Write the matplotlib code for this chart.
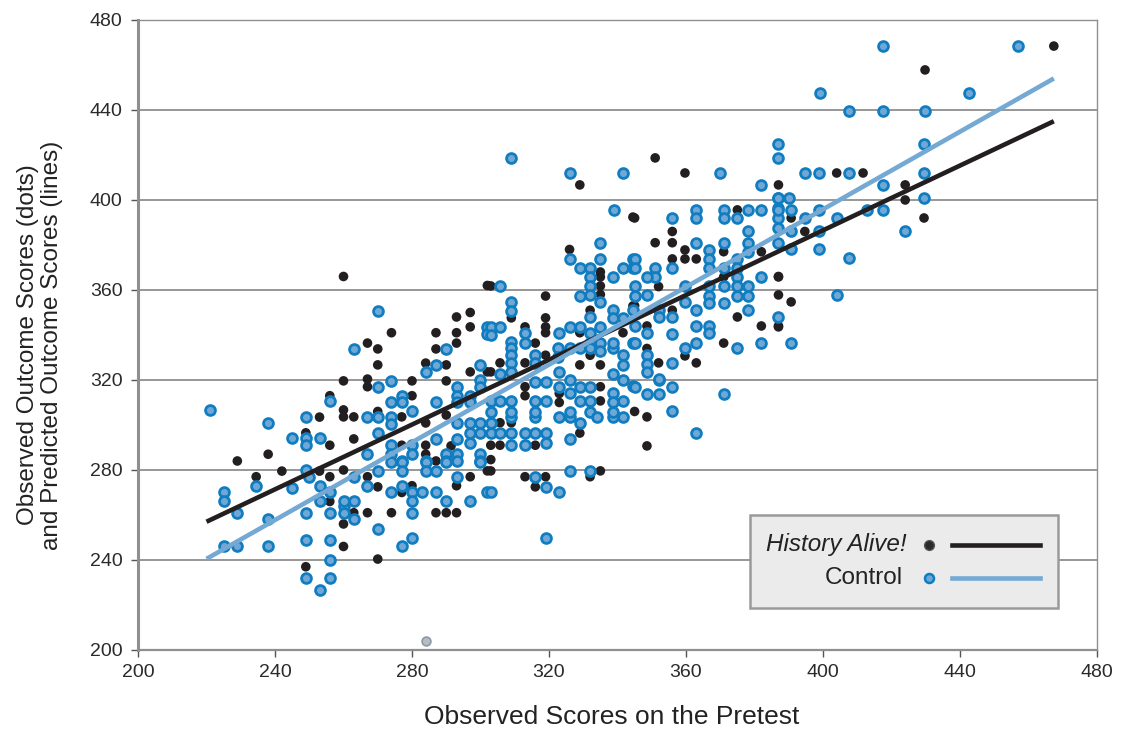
import matplotlib
matplotlib.use('Agg')
import matplotlib.pyplot as plt
from matplotlib.patches import Rectangle
import numpy as np

plt.rcParams['font.family'] = ['Liberation Sans', 'DejaVu Sans']

# History Alive! students: (pretest, outcome)
ha_points = [
    (229, 284), (238, 287), (234.5, 277), (242, 279.5), (249, 296.5), (253, 303.5), (256, 313),
    (256, 291), (253, 279.5), (256, 277), (256, 266), (249, 237), (260, 319.6), (260, 306.7),
    (260, 303.6), (260, 280), (260, 256), (260, 246),
    (260, 366), (302, 362), (293, 348), (297, 350), (297, 343.6), (274, 341), (267, 336.4),
    (270, 333.8), (270, 326.7), (287, 341), (287, 333.8), (293, 341), (293, 336.4), (284, 327.5),
    (290, 326.7), (297, 323.6), (302, 323.6), (267, 320.4), (267, 317), (280, 319.6), (290, 319.6),
    (280, 313), (263, 303.6), (270, 306), (277, 303.6), (263, 293.8), (284, 300.9), (290, 304.4),
    (277, 291), (284, 291), (284, 287), (287, 284),
    (267, 277), (270, 272.5), (277, 270), (280, 273), (297, 277), (293, 273), (263, 261),
    (267, 261), (274, 261), (287, 261), (290, 261), (293, 261), (270, 240.4), (302, 279.6),
    (326, 378), (335, 368), (335, 365.8), (335, 361.8), (335, 358), (303, 361.8), (319, 357.3),
    (309, 347.6), (313, 343.6), (319, 347.6), (319, 343.6), (319, 341), (316, 336.4), (329, 341),
    (332, 351), (341.6, 341), (344.5, 352.9), (319, 331), (332, 331), (329, 326.7), (335, 326.7),
    (303, 323.6), (305.7, 327.6), (313, 327.6), (313, 317), (313, 313), (335, 317), (335, 310.7),
    (323, 314), (323, 310),
    (316, 303.6), (305.7, 301), (309, 301), (305.7, 291), (303, 291), (303, 284.6), (329, 296.4),
    (316, 291), (303, 279.6), (313, 277), (319, 277), (316, 272.5), (335, 279.6), (332, 277),
    (387, 406.7), (375, 395.6), (345, 392), (356, 386), (356, 381), (351, 381), (371, 377),
    (382, 377), (359.7, 377.8), (359.7, 373.8), (363, 373.8), (356, 373.8), (371, 365.8),
    (387, 365.8), (352, 361.5), (345, 353), (356, 351), (348.6, 344), (375, 348), (382, 344),
    (387, 344), (359.7, 330.7), (371, 336.4), (348.6, 334), (352, 327.6), (363, 327.6),
    (345, 306), (348.6, 303.6), (348.6, 290.7),
    (404, 412), (390.7, 392), (424, 406.7), (424, 400), (429.5, 392), (394.7, 386), (387, 366),
    (387, 357.8), (390.7, 354.7), (387, 343.6),
    (467.4, 468.4), (429.8, 457.8),
    (329, 406.7), (351, 418.7), (411.7, 412), (359.7, 412), (344.5, 392.4), (291.4, 290.7),
]

# Control students: (pretest, outcome)
ctrl_points = [
    (221, 306.7), (238, 301), (234.5, 273), (225, 270), (225, 266), (229, 261), (225, 246),
    (229, 246), (238, 246), (238, 258), (245, 294), (245, 272), (249, 303.5), (249, 294),
    (249, 291), (253, 294), (256, 310.6), (249, 280), (250, 277), (253, 273), (256, 270),
    (253, 266), (249, 261), (256, 261), (249, 249), (256, 249), (256, 240), (249, 232),
    (256, 232), (253, 226.7), (260, 264), (260, 261),
    (270, 350.7), (302, 343.6), (302, 340.4), (263, 333.8), (290, 333.8), (284, 323.6),
    (287, 326.7), (300, 326.7), (270, 317), (274, 319.6), (293, 317), (293, 313), (293, 310),
    (300, 320), (300, 317), (274, 310), (277, 313), (277, 310), (280, 306), (287, 310),
    (297, 313), (297, 310), (267, 303.6), (270, 303.6), (274, 303.6), (274, 300.4), (270, 296.4),
    (287, 293.8), (293, 300.9), (293, 293.8), (297, 301), (297, 296.4), (297, 292), (300, 301),
    (300, 296.4), (267, 287), (274, 291), (274, 287), (277, 284), (280, 291), (280, 287),
    (284, 284), (290, 287), (290, 284), (293, 287), (293, 284), (300, 287), (300, 284),
    (263, 277), (270, 279.6), (267, 273), (274, 270), (277, 273), (280, 270), (280, 266),
    (280, 261), (283, 270), (287, 270), (290, 266), (297, 266), (293, 277), (302, 270),
    (260, 266), (263, 266), (263, 258), (270, 253.8), (277, 246), (280, 249.6), (274, 283.6),
    (277, 283.6), (277, 279.6), (284, 283.6), (284, 279.6), (287, 279.6), (290, 283.6),
    (300, 283.6),
    (335, 381), (326, 373.8), (335, 373.8), (329, 369.8), (332, 369.8), (332, 365.8),
    (332, 361.8), (332, 357.8), (335, 354.6), (338.7, 365.8), (341.6, 369.8), (344.5, 373.8),
    (344.5, 369.8), (305.7, 361.8), (329, 357.3), (309, 354.7), (309, 350.7), (303, 343.6),
    (305.7, 343.6), (303, 340), (313, 341), (313, 336.4), (323, 341), (309, 337), (309, 334),
    (309, 331), (309, 327.6), (309, 323.6), (326, 343.6), (329, 343.6), (332, 348), (335, 343.6),
    (332, 341), (332, 336.4), (338.7, 351), (338.7, 347.6), (341.6, 347.6), (344.5, 351),
    (344.5, 336.4), (322.6, 334), (322.6, 330), (316, 331), (316, 327.6), (326, 334), (329, 334),
    (332, 334), (335, 336.4), (335, 333), (338.7, 334), (341.6, 331), (341.6, 326.7),
    (338.7, 322.7), (338.7, 336.4), (305.7, 322.7), (316, 319), (319, 319), (323, 323.6),
    (323, 317), (326, 320), (326, 314), (329, 317), (329, 310.7), (332, 317), (332, 310.7),
    (338.7, 314), (338.7, 310), (341.6, 320), (341.6, 310.7), (344.5, 317.5), (303, 310.7),
    (305.7, 310.7), (309, 310.7), (309, 303.6), (316, 310.7), (316, 303.6), (319, 310.7),
    (323, 303.6), (326, 303.6), (338.7, 303.6), (341.6, 303.6),
    (303, 305.8), (309, 305.8), (316, 305.8), (326, 305.8), (332, 305.8), (338.7, 305.8),
    (334, 303.6), (303, 301), (303, 296.4), (305.7, 296.4), (309, 296.4), (313, 296.4),
    (316, 296.4), (319, 296.4), (319, 291.9), (309, 291), (313, 291), (329, 301), (326, 293.8),
    (316, 277), (319, 272.5), (323, 270), (326, 279.6), (332, 279.6), (303, 270), (319, 249.8),
    (382, 406.7), (387, 400.9), (387, 396.4), (387, 392), (387, 387.6), (363, 395.6), (363, 392),
    (371, 395.6), (371, 392), (375, 392), (378, 395.6), (382, 395.6), (356, 392), (363, 381),
    (371, 381), (378, 386), (378, 381), (378, 377), (387, 381), (366.7, 377.8), (366.7, 373.8),
    (366.7, 369.8), (356, 369.8), (345, 373.8), (345, 369.8), (351, 369.8), (351, 365.8),
    (348.6, 365.8), (371, 369.8), (375, 373.8), (375, 369.8), (375, 365.8), (382, 365.8),
    (345, 361.8), (345, 357.3), (359.7, 361.8), (366.7, 361.8), (366.7, 357.3), (366.7, 354),
    (371, 361.8), (371, 354), (375, 361.8), (375, 357.3), (378, 361.8), (378, 357.3),
    (348.6, 357.8), (359.7, 354.7), (363, 351), (352, 351), (352, 348), (356, 348), (356, 340.6),
    (345, 344), (348.6, 341), (345, 336.4), (363, 344), (366.7, 344), (366.7, 341), (378, 351),
    (387, 348), (363, 336.4), (359.7, 334), (375, 334), (382, 336.4), (348.6, 331), (348.6, 327),
    (348.6, 323.6), (356, 327.6), (352, 320),
    (345, 317), (348.6, 313.8), (352, 313.8), (352, 320.5), (356, 317), (371, 313.8), (356, 306),
    (363, 296.4),
    (387, 424.9), (387, 418.7), (394.7, 412), (398.8, 412), (407.6, 412), (387, 401), (390, 401),
    (387, 395.6), (390.7, 395.6), (394.7, 392), (398.8, 395.6), (404, 392), (412.8, 395.6),
    (417.5, 406.7), (417.5, 395.6), (429.5, 425), (429.5, 412), (429.5, 401), (424, 386),
    (390.7, 386), (390.7, 378), (398.8, 386), (398.8, 378), (407.6, 374), (404, 357.8),
    (390.7, 336.4),
    (457, 468.4), (442.6, 447.5), (429.8, 439.6),
    (417.5, 468.4), (399, 447.5), (407.6, 439.6), (417.5, 439.6), (309, 418.7), (326, 412),
    (341.6, 412), (339, 395.6), (370, 412),
]

# student outside both groups (grey dot)
other_points = [(284, 204)]

# fitted prediction lines (endpoints of the pretest range)
line_x = [220, 467.4]
ha_line = [257, 435]
ctrl_line = [240.5, 454]

ha = np.array(ha_points)
ctrl = np.array(ctrl_points)
other = np.array(other_points)

fig = plt.figure(figsize=(11.22, 7.29), dpi=100)
ax = fig.add_axes([0.123, 0.1084, 0.8547, 0.8642])

grid_col = '#8f8f8f'
ax.set_xlim(200, 480)
ax.set_ylim(200, 480)
ax.set_xticks(np.arange(200, 481, 40))
ax.set_yticks(np.arange(200, 481, 40))
ax.yaxis.grid(True, color=grid_col, lw=1.3)
ax.set_axisbelow(True)
for side in ['top', 'right']:
    ax.spines[side].set_color(grid_col)
    ax.spines[side].set_linewidth(1.0)
ax.spines['left'].set_color(grid_col)
ax.spines['left'].set_linewidth(2.2)
ax.spines['bottom'].set_color(grid_col)
ax.spines['bottom'].set_linewidth(1.6)
ax.tick_params(axis='both', color='#555555', length=5, width=1, labelsize=14,
               labelcolor='#2a2a2a')
ax.tick_params(axis='y', pad=6)
ax.tick_params(axis='x', pad=5)

ax.scatter(ha[:, 0], ha[:, 1], s=48, color='#231f20', edgecolors='none', zorder=3)
ax.scatter(ctrl[:, 0], ctrl[:, 1], s=50, color='#6fa8d6', edgecolors='#0f7dc0',
           linewidths=2.0, zorder=4)
ax.scatter(other[:, 0], other[:, 1], s=40, color='#b4bcc6', edgecolors='#8e98a4',
           linewidths=1.2, zorder=4)

ax.plot(line_x, ha_line, color='#231f20', lw=3.3, solid_capstyle='butt', zorder=5)
ax.plot(line_x, ctrl_line, color='#74a9d4', lw=3.3, solid_capstyle='butt', zorder=5)

fig.text(612 / 1122, 1 - 717 / 729, 'Observed Scores on the Pretest', ha='center',
         va='center', fontsize=19, color='#222222')
fig.text(40 / 1122, 1 - 345 / 729,
         'Observed Outcome Scores (dots)\nand Predicted Outcome Scores (lines)',
         rotation=90, ha='center', va='center', multialignment='center',
         fontsize=17.5, color='#222222', linespacing=1.15)

# legend box, drawn by hand
ax.add_patch(Rectangle((0.638, 0.0667), 0.321, 0.1473, transform=ax.transAxes,
                       facecolor='#ebebeb', edgecolor='#9a9a9a', lw=1.8, zorder=6))
ax.text(0.802, 0.1667, 'History Alive!', transform=ax.transAxes, ha='right', va='center',
        fontsize=17.5, style='italic', color='#222222', zorder=7)
ax.text(0.798, 0.114, 'Control', transform=ax.transAxes, ha='right', va='center',
        fontsize=17.5, color='#222222', zorder=7)
ax.scatter([0.825], [0.1667], s=50, color='#2b2b2b', edgecolors='#555555', linewidths=1,
           transform=ax.transAxes, zorder=7)
ax.scatter([0.825], [0.114], s=42, color='#6fa8d6', edgecolors='#0f7dc0', linewidths=1.8,
           transform=ax.transAxes, zorder=7)
ax.plot([0.849, 0.9406], [0.1667, 0.1667], color='#231f20', lw=3.3, transform=ax.transAxes,
        zorder=7)
ax.plot([0.849, 0.9406], [0.114, 0.114], color='#74a9d4', lw=3.3, transform=ax.transAxes,
        zorder=7)

fig.savefig('out.png', dpi=100)
